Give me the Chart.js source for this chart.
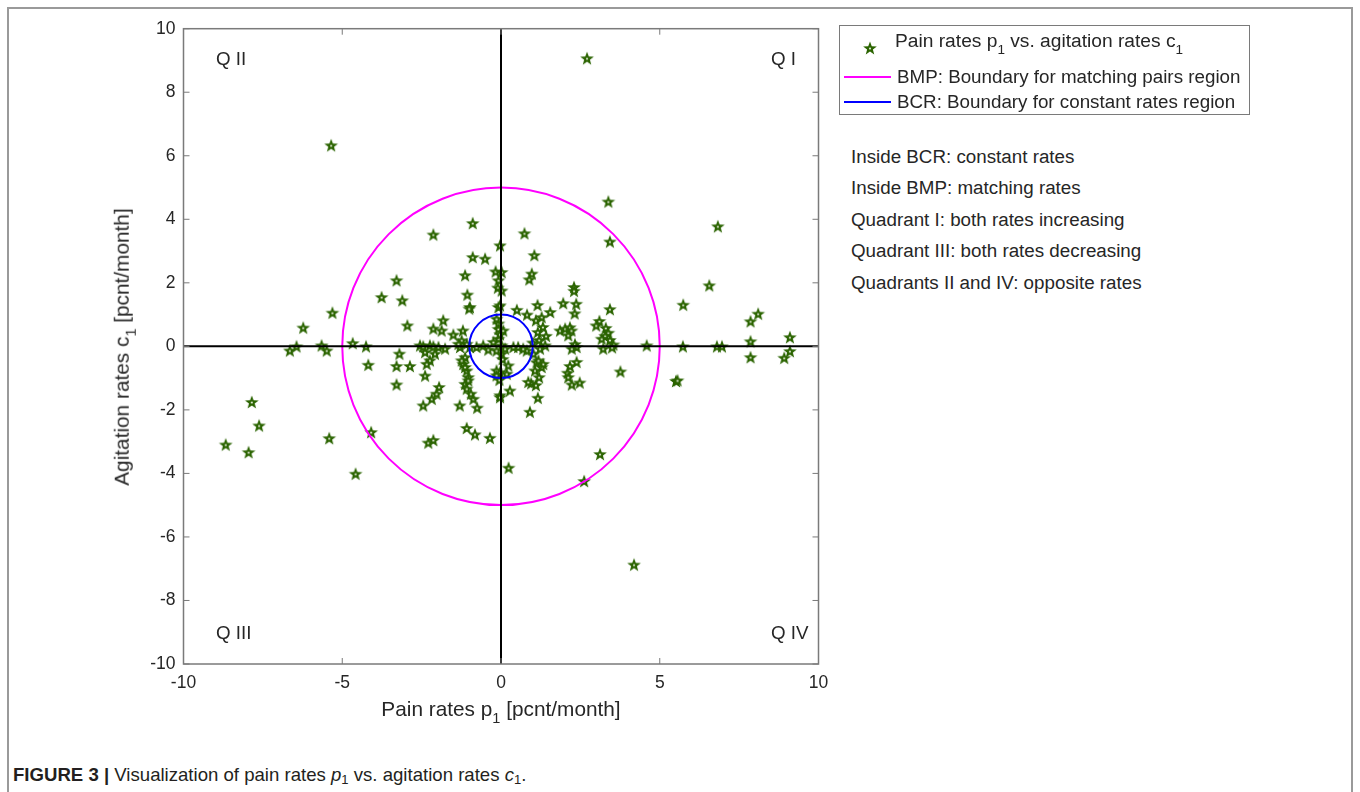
<!DOCTYPE html>
<html>
<head>
<meta charset="utf-8">
<script src="https://cdn.jsdelivr.net/npm/chart.js@4.4.1/dist/chart.umd.min.js"></script>
<style>
body { margin: 0; background: #fff; font-family: "Liberation Sans", Arial, sans-serif; color: #262626; }
#page { position: relative; width: 1360px; height: 792px; overflow: hidden; }
#frame { position: absolute; left: 7px; top: 7px; width: 1346px; height: 820px; border: 2px solid #9a9a9a; box-sizing: border-box; }
#wrap { position: absolute; left: 0; top: 0; width: 840px; height: 720px; }
.t { position: absolute; white-space: nowrap; font-size: 18.8px; line-height: 1; }
.t sub { font-size: 13.5px; vertical-align: -7px; line-height: 0; }
#legend { position: absolute; left: 839px; top: 25px; width: 411px; height: 90px; border: 1.5px solid #7a7a7a; box-sizing: border-box; }
.lline { position: absolute; height: 2px; width: 47px; left: 4px; }
#ytitle { position: absolute; left: 125px; top: 347px; transform: translate(-50%, -50%) rotate(-90deg); font-size: 20.8px; white-space: nowrap; line-height: 1; }
#xtitle { position: absolute; left: 501px; top: 699px; transform: translateX(-50%); font-size: 20.8px; white-space: nowrap; line-height: 1; }
#caption { position: absolute; left: 13px; top: 766px; font-size: 18.6px; white-space: nowrap; line-height: 1; color: #231f20; }
</style>
</head>
<body>
<div id="page">
  <div id="frame"></div>
  <div id="wrap"><canvas id="chart" width="840" height="720"></canvas></div>

  <div class="t" style="left:216px;top:50px;">Q II</div>
  <div class="t" style="left:771px;top:50px;">Q I</div>
  <div class="t" style="left:216px;top:624px;">Q III</div>
  <div class="t" style="left:771px;top:624px;">Q IV</div>

  <div id="ytitle">Agitation rates c<sub style="font-size:14.5px;vertical-align:-7px;">1</sub> [pcnt/month]</div>
  <div id="xtitle">Pain rates p<sub style="font-size:14.5px;vertical-align:-7px;">1</sub> [pcnt/month]</div>

  <div id="legend">
    <canvas id="legendStar" width="18" height="18" style="position:absolute;left:21px;top:13px;"></canvas>
    <div class="t" style="left:55px;top:5px;font-size:19.2px;">Pain rates p<sub>1</sub> vs. agitation rates c<sub>1</sub></div>
    <div class="lline" style="top:50px;background:#ff00ff;"></div>
    <div class="t" style="left:57px;top:42px;">BMP: Boundary for matching pairs region</div>
    <div class="lline" style="top:75px;background:#0000ff;"></div>
    <div class="t" style="left:57px;top:67px;">BCR: Boundary for constant rates region</div>
  </div>

  <div class="t" style="left:851px;top:148px;">Inside BCR: constant rates</div>
  <div class="t" style="left:851px;top:179px;">Inside BMP: matching rates</div>
  <div class="t" style="left:851px;top:211px;">Quadrant I: both rates increasing</div>
  <div class="t" style="left:851px;top:242px;">Quadrant III: both rates decreasing</div>
  <div class="t" style="left:851px;top:274px;">Quadrants II and IV: opposite rates</div>

  <div id="caption"><b>FIGURE 3 |</b> Visualization of pain rates <i>p</i><sub style="font-size:13px;vertical-align:-3px;">1</sub> vs. agitation rates <i>c</i><sub style="font-size:13px;vertical-align:-3px;">1</sub>.</div>
</div>

<script>
// pain rates p1 (x) and agitation rates c1 (y)
const painRates = [
  2.71, -5.35, 3.38, 6.83, 3.43, 0.74, -0.89, -2.13, -0.03, 1.05,
  -0.89, -0.5, -1.13, -0.17, 0.02, 0.97, 0.89, -3.29, -0.08, -3.76,
  -3.11, -0.1, 0.02, -1.06, -0.98, -1.0, -0.08, -0.03, -5.31, -6.23,
  6.56, 5.74, 8.1, 7.86, 9.1, 7.86, 6.8, 6.96, 5.73, 4.59,
  9.1, 8.92, 7.86, 5.51, 5.56, 3.76, 3.12, 2.62, 0.24, 0.91,
  1.16, 4.19, 2.3, 2.3, 1.96, 2.37, 2.32, 1.55, 1.15, 0.5,
  0.82, 1.28, 1.1, 1.32, 1.16, 1.42, 1.2, 1.0, 1.86, 2.02,
  2.17, 2.22, 2.12, 2.33, 2.38, 2.23, 3.43, 3.1, 3.0, 3.3,
  3.38, 3.28, 3.43, 3.54, 3.22, 3.5, 3.17, 2.38, 2.17, 2.1,
  2.12, 2.23, 2.48, 1.12, 1.28, 1.07, 1.2, 0.95, 1.1, 0.86,
  1.33, 1.18, 1.02, 0.81, 0.7, 0.54, 0.39, 1.23, 1.39, 0.23,
  0.18, -0.03, -0.14, 0.28, -0.03, -0.03, 0.02, -0.08, 0.07, -0.08,
  -0.24, 0.02, 0.13, -0.14, -0.56, -0.77, -0.14, -0.08, -0.14, -1.24,
  -1.08, -0.98, -1.29, -1.82, -2.13, -1.87, -1.5, -1.2, -1.34, -2.95,
  -2.55, -2.24, -1.97, -1.76, -2.39, -2.45, -2.13, -2.24, -2.34, -2.08,
  -3.2, -3.29, -2.87, -3.29, -2.39, -6.65, -6.44, -5.65, -5.49, -4.67,
  -4.25, -4.18, -7.85, -7.62, -8.67, -7.95, -5.41, -4.09, -4.58, -2.29,
  -2.13, -1.08, -0.82, -0.35, -2.45, -2.18, -2.03, -1.95, -1.3, -0.87,
  -0.75, -1.13, -1.19, -1.08, -1.03, -1.13, -1.08, -0.95, -1.13, -1.03,
  -1.24, -0.03, 0.05, -0.05, -0.4
];
const agitationRates = [
  9.07, 6.33, 4.56, 3.78, 3.3, 3.56, 3.88, 3.52, 3.18, 2.87,
  2.81, 2.76, 2.24, 2.36, 2.34, 2.29, 2.11, 2.08, 2.08, 1.55,
  1.45, 1.85, 1.76, 1.63, 1.24, 1.19, 1.24, 1.29, 1.06, 0.59,
  1.92, 1.31, 1.03, 0.79, 0.29, 0.16, 0.0, 0.0, 0.0, 0.03,
  -0.15, -0.36, -0.34, -1.09, -1.07, -0.79, -3.39, -4.24, -3.82, -2.06,
  -1.62, -6.87, 1.87, 1.75, 1.36, 1.34, 1.04, 1.08, 1.3, 1.15,
  1.0, 0.92, 0.82, 0.61, 0.45, 0.33, 0.2, 0.12, 0.5, 0.56,
  0.6, 0.5, 0.35, 0.07, -0.02, -0.07, 1.17, 0.8, 0.66, 0.58,
  0.43, 0.33, 0.2, 0.06, -0.07, -0.03, 0.24, -0.49, -0.62, -0.83,
  -0.97, -1.2, -1.14, -0.5, -0.65, -0.76, -0.97, -1.16, -1.22, -1.12,
  -0.55, -0.44, -0.23, -0.13, -0.07, -0.02, -0.02, -0.07, 0.03, -0.6,
  -0.86, -0.81, -0.76, -1.39, -1.54, -1.6, -0.23, 0.72, 0.5, 0.24,
  0.14, 0.03, -0.07, -0.13, 0.03, -0.02, 0.87, 0.55, -0.91, 0.19,
  0.08, -0.02, -0.02, 0.82, 0.56, 0.5, 0.37, 0.5, 0.08, 0.66,
  0.03, 0.03, -0.02, -0.07, -0.18, 0.0, 0.0, -0.44, -0.55, -0.23,
  -0.23, -0.62, -0.62, -1.2, -0.92, -0.13, 0.0, 0.03, -0.13, 0.1,
  0.0, -0.58, -1.75, -2.49, -3.09, -3.33, -2.89, -2.7, -4.01, -3.03,
  -2.95, -2.57, -2.77, -2.88, -1.86, -1.65, -1.49, -1.28, -1.86, -1.65,
  -1.93, -0.34, -0.55, -0.76, -0.97, -1.18, -1.33, -1.49, -0.65, -1.07,
  -0.44, 0.38, -0.4, -1.05, -0.1
];
const xTicks = [-10, -5, 0, 5, 10];
const yTicks = [-10, -8, -6, -4, -2, 0, 2, 4, 6, 8, 10];
const boundaryRadii = [5, 1];            // BMP, BCR
const boundaryColors = ['#ff00ff', '#0000ff'];
const starColor = '#2b6400';
const axisColor = '#7a7a7a';

// filled pentagram with a small pale centre, like the MATLAB marker
function makeStar(canvas, color) {
    const g = canvas.getContext('2d');
    const s = canvas.width / 2, R = 7.2, r = R * 0.42;
    g.beginPath();
    for (let k = 0; k < 10; k++) {
        const ang = -Math.PI / 2 + k * Math.PI / 5;
        const rr = k % 2 ? r : R;
        g.lineTo(s + rr * Math.cos(ang), s + 0.6 + rr * Math.sin(ang));
    }
    g.closePath();
    g.fillStyle = color;
    g.fill();
    g.beginPath();
    g.arc(s, s + 0.6, 1.1, 0, 2 * Math.PI);
    g.fillStyle = '#d9e4cc';
    g.fill();
    return canvas;
}

const starImg = document.createElement('canvas');
starImg.width = starImg.height = 18;
makeStar(starImg, starColor);
makeStar(document.getElementById('legendStar'), starColor);

// zero lines, boundary circles, box and inward ticks
const overlay = {
    id: 'overlay',
    afterDatasetsDraw(chart) {
        const { ctx, chartArea: a, scales: { x, y } } = chart;
        const x0 = x.getPixelForValue(0), y0 = y.getPixelForValue(0);
        ctx.save();
        boundaryRadii.forEach((r, i) => {
            ctx.beginPath();
            ctx.arc(x0, y0, x.getPixelForValue(r) - x0, 0, 2 * Math.PI);
            ctx.strokeStyle = boundaryColors[i];
            ctx.lineWidth = 2;
            ctx.stroke();
        });
        ctx.strokeStyle = '#000';
        ctx.lineWidth = 2;
        ctx.beginPath();
        ctx.moveTo(x0, a.top); ctx.lineTo(x0, a.bottom);
        ctx.moveTo(a.left, y0); ctx.lineTo(a.right, y0);
        ctx.stroke();
        ctx.restore();
    },
    afterDraw(chart) {
        const { ctx, chartArea: a, scales: { x, y } } = chart;
        const len = 6;
        ctx.save();
        ctx.strokeStyle = axisColor;
        ctx.lineWidth = 1;
        ctx.beginPath();
        xTicks.forEach(v => {
            const px = x.getPixelForValue(v);
            ctx.moveTo(px, a.bottom); ctx.lineTo(px, a.bottom - len);
            ctx.moveTo(px, a.top); ctx.lineTo(px, a.top + len);
        });
        yTicks.forEach(v => {
            const py = y.getPixelForValue(v);
            ctx.moveTo(a.left, py); ctx.lineTo(a.left + len, py);
            ctx.moveTo(a.right, py); ctx.lineTo(a.right - len, py);
        });
        ctx.stroke();
        ctx.lineWidth = 1.5;
        ctx.strokeRect(a.left, a.top, a.width, a.height);
        ctx.restore();
    }
};

new Chart(document.getElementById('chart'), {
    type: 'scatter',
    data: {
        datasets: [{
            label: 'Pain rates p1 vs. agitation rates c1',
            data: painRates.map((p, i) => ({ x: p, y: agitationRates[i] })),
            pointStyle: starImg,
            pointRadius: 9,
            pointHoverRadius: 9
        }]
    },
    options: {
        responsive: false,
        animation: false,
        devicePixelRatio: 1,
        layout: { padding: { top: 28.7, right: 21.5, left: 0, bottom: 0 } },
        plugins: { legend: { display: false }, tooltip: { enabled: false } },
        scales: {
            x: {
                type: 'linear', min: -10, max: 10,
                afterBuildTicks: s => { s.ticks = xTicks.map(v => ({ value: v })); },
                afterFit: s => { s.height = 56; },
                grid: { display: false, drawTicks: false },
                border: { display: false },
                ticks: { font: { family: 'Liberation Sans, Arial', size: 17.5 }, color: '#262626', padding: 9 }
            },
            y: {
                type: 'linear', min: -10, max: 10,
                afterBuildTicks: s => { s.ticks = yTicks.map(v => ({ value: v })); },
                afterFit: s => { s.width = 183.5; },
                grid: { display: false, drawTicks: false },
                border: { display: false },
                ticks: { font: { family: 'Liberation Sans, Arial', size: 17.5 }, color: '#262626', padding: 8 }
            }
        }
    },
    plugins: [overlay]
});
</script>
</body>
</html>
